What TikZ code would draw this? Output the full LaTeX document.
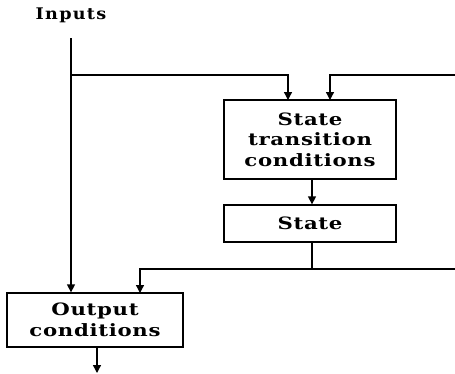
\documentclass[tikz,border=0pt]{standalone}
\usepackage{fontspec}
\setmainfont{DejaVu Serif}
\newfontfamily\wideserif[LetterSpace=4,FakeStretch=1.25]{DejaVu Serif}
\newfontfamily\widerserif[LetterSpace=8,FakeStretch=1.1]{DejaVu Serif}
\usetikzlibrary{arrows.meta}
\tikzset{
  box/.style={draw, line width=1.3pt, inner sep=0pt, align=center,
    font=\wideserif\fontsize{17}{20.5}\selectfont\bfseries},
  conn/.style={line width=1.3pt},
  arr/.style={conn, -{Triangle[length=8pt,width=8pt]}},
}
\begin{document}
\begin{tikzpicture}[x=1pt,y=-1pt]
\useasboundingbox (0,0) rectangle (455,373);
\node[font=\widerserif\fontsize{16}{18}\selectfont\bfseries] (inputs) at (71,15) {Inputs};
\node[box, minimum width=172pt, minimum height=79pt] (trans) at (310,139.5) {State\\transition\\conditions};
\node[box, minimum width=172pt, minimum height=37pt] (state) at (310,223.5) {State};
\node[box, minimum width=176pt, minimum height=54pt] (out) at (95,320) {Output\\conditions};
\coordinate (in0) at (71,38);
\coordinate (br) at (71,75);
\coordinate (ta) at (288,100);
\coordinate (tb) at (330,100);
\coordinate (fb) at (455,75);
\coordinate (fb2) at (455,269);
\coordinate (oa) at (140,293);
\coordinate (oend) at (97,373);
\draw[arr] (in0) -- (out.north -| in0);
\draw[arr] (br) -- (br -| ta) -- (ta);
\draw[arr] (fb) -- (fb -| tb) -- (tb);
\draw[arr] (trans.south -| 312,0) -- (state.north -| 312,0);
\draw[conn] (state.south -| 312,0) -- (fb2 -| 312,0);
\draw[arr] (fb2) -- (fb2 -| oa) -- (oa);
\draw[arr] (out.south -| oend) -- (oend);
\end{tikzpicture}
\end{document}
